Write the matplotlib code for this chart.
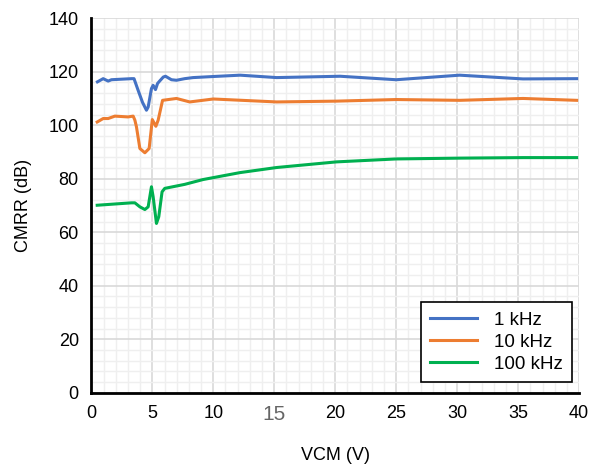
import matplotlib.pyplot as plt
from matplotlib.ticker import MultipleLocator

plt.rcParams['font.family'] = ['Liberation Sans', 'DejaVu Sans']

# 1 kHz
x_1k = [0.5, 0.97, 1.38, 1.65, 3.3, 3.5, 3.84, 4.2, 4.52, 4.66, 4.93, 5.07, 5.26, 5.43,
        5.6, 5.9, 6.08, 6.57, 6.98, 7.66, 8.34, 10.0, 12.2, 15.2, 20.4, 25.0,
        30.2, 35.4, 39.8]
y_1k = [116.2, 117.4, 116.5, 117.0, 117.4, 117.4, 113.0, 108.5, 105.6, 106.8, 113.7, 114.9,
        113.3, 115.6, 116.5, 118.0, 118.3, 117.0, 116.8, 117.4, 117.8, 118.2, 118.7,
        117.8, 118.3, 117.0, 118.7, 117.3, 117.4]

# 10 kHz
x_10k = [0.48, 0.97, 1.38, 1.93, 3.0, 3.43, 3.57, 3.7, 3.98, 4.39, 4.74, 5.0, 5.29,
         5.48, 5.84, 6.98, 8.07, 10.0, 15.2, 20.1, 25.0, 30.2, 35.4, 39.8]
y_10k = [101.2, 102.5, 102.5, 103.4, 103.1, 103.4, 101.9, 99.4, 91.3, 89.7, 91.3,
         102.1, 99.6, 101.9, 109.3, 110.0, 108.7, 109.8, 108.7, 109.0, 109.6, 109.3,
         110.0, 109.3]

# 100 kHz
x_100k = [0.48, 3.3, 3.57, 3.98, 4.39, 4.66, 4.93, 5.07, 5.34, 5.53, 5.8, 6.02,
          7.66, 9.16, 12.2, 15.2, 20.1, 25.0, 30.2, 35.4, 39.8]
y_100k = [70.1, 71.0, 71.0, 69.5, 68.5, 69.5, 77.0, 73.2, 63.3, 65.8, 75.1, 76.4,
          77.9, 79.7, 82.3, 84.2, 86.3, 87.4, 87.7, 87.9, 87.9]

x_ticks = [0, 5, 10, 15, 20, 25, 30, 35, 40]

fig = plt.figure(figsize=(5.97, 4.66), dpi=100)
ax = fig.add_axes([0.153, 0.157, 0.817, 0.804])

ax.plot(x_1k, y_1k, color='#4472C4', lw=2.2, label='1 kHz')
ax.plot(x_10k, y_10k, color='#ED7D31', lw=2.2, label='10 kHz')
ax.plot(x_100k, y_100k, color='#00B050', lw=2.2, label='100 kHz')

ax.set_xlim(0, 40)
ax.set_ylim(0, 140)
ax.set_xticks(x_ticks)
ax.set_yticks(range(0, 141, 20))
ax.xaxis.set_minor_locator(MultipleLocator(1))
ax.yaxis.set_minor_locator(MultipleLocator(4))
ax.grid(which='major', color='#d9d9d9', lw=1.2)
ax.grid(which='minor', color='#efefef', lw=1.0)
ax.set_axisbelow(True)

for side in ['top', 'right']:
    ax.spines[side].set_visible(False)
for side in ['left', 'bottom']:
    ax.spines[side].set_linewidth(2)
    ax.spines[side].set_color('black')

ax.tick_params(which='both', length=0)
ax.tick_params(axis='x', labelsize=13, pad=9)
ax.tick_params(axis='y', labelsize=13, pad=9)

# the "15" label is grey and larger in the original
for lbl in ax.get_xticklabels():
    if lbl.get_text() == '15':
        lbl.set_color('#666666')
        lbl.set_fontsize(15)

ax.set_xlabel('VCM (V)', fontsize=13, labelpad=16)
ax.set_ylabel('CMRR (dB)', fontsize=13, labelpad=12)

leg = ax.legend(loc='lower right', bbox_to_anchor=(0.986, 0.029), borderaxespad=0,
                fontsize=13.5, fancybox=False, framealpha=1, edgecolor='black',
                handlelength=2.5, borderpad=0.5, labelspacing=0.25, handletextpad=0.9)
leg.get_frame().set_linewidth(1.2)

fig.savefig('out.png', dpi=100)
